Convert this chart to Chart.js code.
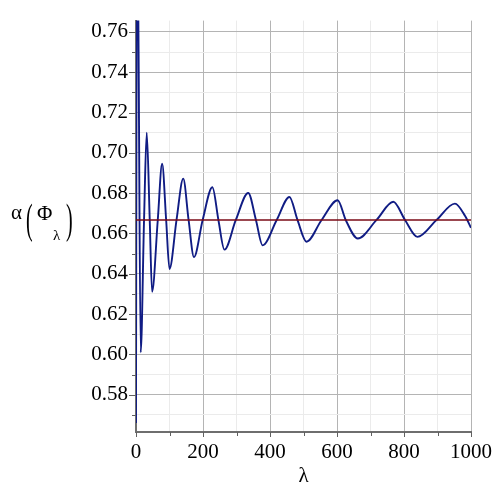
<!DOCTYPE html>
<html>
<head>
<meta charset="utf-8">
<script src="https://cdn.jsdelivr.net/npm/chart.js@4.4.1/dist/chart.umd.min.js"></script>
<style>
  body { margin: 0; background: #fff; }
</style>
</head>
<body>
<canvas id="alphaChart" width="500" height="500"></canvas>
<script>
// lambda values and alpha(Phi_lambda)
const lambdaVals = [0, 2, 4, 7, 14, 24, 32, 41, 48, 65, 78, 90, 100, 121, 141, 157, 173, 199, 228, 246,
  264, 298, 335, 358, 378, 420, 458, 482, 509, 554, 602, 626, 662, 718, 768, 803, 840, 897, 952, 982, 1000];
const alphaVals = [0.566, 0.78, 0.80, 0.766, 0.601, 0.6667, 0.710, 0.6667, 0.631, 0.6667, 0.6946, 0.6667,
  0.6424, 0.6667, 0.6872, 0.6667, 0.6483, 0.6667, 0.6829, 0.6667, 0.652, 0.6667, 0.6801, 0.6667, 0.6541,
  0.6667, 0.6781, 0.6667, 0.6559, 0.6667, 0.6765, 0.6667, 0.6575, 0.6667, 0.6757, 0.6667, 0.6583, 0.6667,
  0.6748, 0.6688, 0.6628];

// limit line at 2/3
const limitX = [0, 1000];
const limitY = [0.6667, 0.6667];

// ticks
const xMajor = [0, 200, 400, 600, 800, 1000];
const xMinor = [100, 300, 500, 700, 900];
const yMajor = [0.58, 0.60, 0.62, 0.64, 0.66, 0.68, 0.70, 0.72, 0.74, 0.76];
const yMinor = [0.57, 0.59, 0.61, 0.63, 0.65, 0.67, 0.69, 0.71, 0.73, 0.75];

const serif = '"Liberation Serif", "DejaVu Serif", serif';

//---------------------------------------------------
// tick marks + axis titles
//---------------------------------------------------
const axisDecor = {
  id: "axisDecor",
  afterDraw(chart) {
    const ctx = chart.ctx;
    const xs = chart.scales.x;
    const ys = chart.scales.y;
    const area = chart.chartArea;

    ctx.save();
    ctx.strokeStyle = "#606060";
    ctx.lineWidth = 1;
    ys.ticks.forEach((t) => {
      const y = Math.round(ys.getPixelForValue(t.value)) + 0.5;
      const len = yMajor.includes(t.value) ? 7 : 4;
      ctx.beginPath();
      ctx.moveTo(area.left - len, y);
      ctx.lineTo(area.left, y);
      ctx.stroke();
    });
    xs.ticks.forEach((t) => {
      const x = Math.round(xs.getPixelForValue(t.value)) + 0.5;
      const len = xMajor.includes(t.value) ? 5 : 4;
      ctx.beginPath();
      ctx.moveTo(x, area.bottom);
      ctx.lineTo(x, area.bottom + len);
      ctx.stroke();
    });

    ctx.fillStyle = "#000";
    ctx.textBaseline = "alphabetic";

    // x title
    ctx.font = "21px " + serif;
    ctx.textAlign = "center";
    ctx.fillText("λ", (area.left + area.right) / 2, 482);

    // y title: α(Φ_λ)
    ctx.textAlign = "left";
    ctx.fillText("α", 11, 219);
    ctx.fillText("Φ", 37, 220);
    ctx.font = "15px " + serif;
    ctx.fillText("λ", 53, 240);

    ctx.font = "20px " + serif;
    ctx.textBaseline = "middle";
    ctx.save();
    ctx.translate(26, 222);
    ctx.scale(1, 2.15);
    ctx.fillText("(", 0, 0);
    ctx.restore();
    ctx.save();
    ctx.translate(66, 222);
    ctx.scale(1, 2.15);
    ctx.fillText(")", 0, 0);
    ctx.restore();

    ctx.restore();
  },
};

//---------------------------------------------------
// Chart
//---------------------------------------------------
const gridColor = (majors) => (c) =>
  c.tick && majors.includes(c.tick.value) ? "#b4b4b4" : "#ebebeb";

new Chart(document.getElementById("alphaChart"), {
  type: "line",
  data: {
    datasets: [
      {
        data: limitX.map((x, i) => ({ x: x, y: limitY[i] })),
        borderColor: "#7a0a16",
        borderWidth: 1.5,
        pointRadius: 0,
      },
      {
        data: lambdaVals.map((x, i) => ({ x: x, y: alphaVals[i] })),
        borderColor: "#101c84",
        borderWidth: 1.9,
        pointRadius: 0,
        cubicInterpolationMode: "monotone",
      },
    ],
  },
  options: {
    responsive: false,
    animation: false,
    layout: { padding: { left: 0, right: 29, top: 8, bottom: 0 } },
    plugins: {
      legend: { display: false },
      tooltip: { enabled: false },
    },
    scales: {
      x: {
        type: "linear",
        min: 0,
        max: 1000,
        afterBuildTicks: (s) => {
          s.ticks = xMajor.concat(xMinor).sort((a, b) => a - b).map((v) => ({ value: v }));
        },
        afterFit: (s) => { s.height = 68; },
        ticks: {
          padding: 8,
          color: "#000",
          font: { family: serif, size: 21 },
          maxRotation: 0,
          autoSkip: false,
          callback: (v) => (xMajor.includes(v) ? String(v) : ""),
        },
        grid: { color: gridColor(xMajor), drawTicks: false },
        border: { color: "#6e6e6e", width: 2 },
      },
      y: {
        type: "linear",
        min: 0.5615,
        max: 0.7656,
        afterBuildTicks: (s) => {
          s.ticks = yMajor.concat(yMinor).sort((a, b) => a - b).map((v) => ({ value: v }));
        },
        afterFit: (s) => { s.width = 136; },
        ticks: {
          padding: 8,
          color: "#000",
          font: { family: serif, size: 21 },
          autoSkip: false,
          callback: (v) => (yMajor.includes(v) ? v.toFixed(2) : ""),
        },
        grid: { color: gridColor(yMajor), drawTicks: false },
        border: { color: "#6e6e6e", width: 2 },
      },
    },
  },
  plugins: [axisDecor],
});
</script>
</body>
</html>
